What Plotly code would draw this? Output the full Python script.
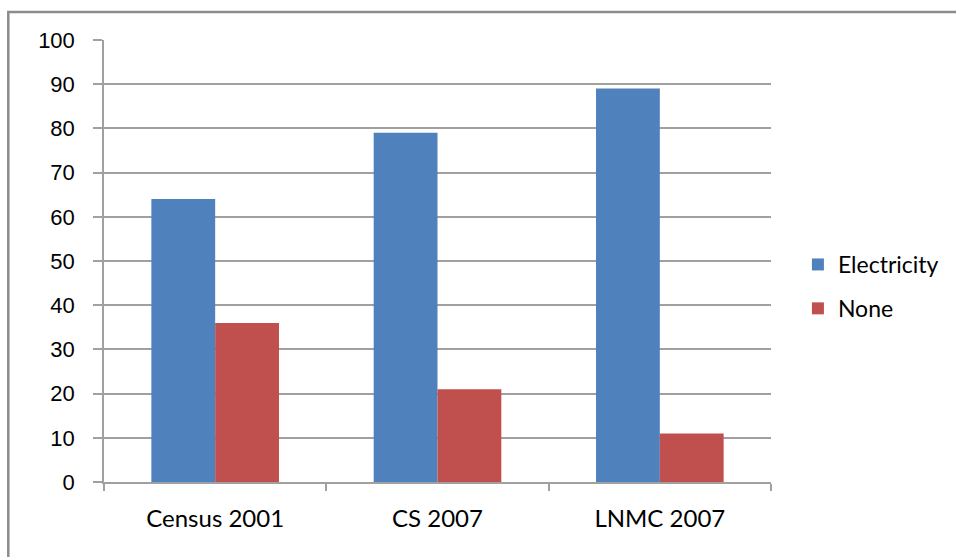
import plotly.graph_objects as go

# Household energy source for lighting (%)
categories = ["Census 2001", "CS 2007", "LNMC 2007"]
electricity = [64, 79, 89]
none_source = [36, 21, 11]

W, H = 956, 557
L, R, T, B = 104, 183, 40, 75
plot_w = W - L - R
plot_h = H - T - B


def px_x(px):
    return (px - L) / plot_w


def px_y(py):
    return (H - B - py) / plot_h


fig = go.Figure()
fig.add_trace(go.Bar(name="Electricity", x=categories, y=electricity,
                     legendgroup="e",
                     marker=dict(color="#4F81BD", line=dict(width=0))))
fig.add_trace(go.Bar(name="None", x=categories, y=none_source,
                     legendgroup="n",
                     marker=dict(color="#C0504D", line=dict(width=0))))

grey = "#A0A0A0"
fig.update_layout(
    width=W, height=H,
    margin=dict(l=L, r=R, t=T, b=B),
    paper_bgcolor="white", plot_bgcolor="white",
    barmode="group", bargap=0.426, bargroupgap=0,
    font=dict(family="Liberation Sans", color="#000000"),
    legend=dict(
        x=px_x(800), y=px_y(243), xanchor="left", yanchor="top",
        font=dict(family="Lato", size=23, color="#000000"),
        tracegroupgap=11, traceorder="grouped", itemwidth=30,
        bgcolor="rgba(0,0,0,0)",
    ),
    xaxis=dict(
        type="category", tickson="boundaries",
        showline=True, linecolor=grey, linewidth=1.5,
        ticks="outside", ticklen=7, tickcolor=grey, tickwidth=1.5,
        showgrid=False, tickfont=dict(family="Lato", size=24, color="#000"),
        ticklabelstandoff=14,
    ),
    yaxis=dict(
        range=[0, 100], dtick=10, tick0=0,
        showline=True, linecolor=grey, linewidth=1.5,
        ticks="outside", ticklen=9, tickcolor=grey, tickwidth=1.5,
        showgrid=True, gridcolor=grey, gridwidth=1.5,
        zeroline=False,
        tickfont=dict(family="Liberation Sans", size=22, color="#000"),
        ticklabelstandoff=14,
    ),
)

# Outer chart frame
fig.add_shape(type="rect", xref="paper", yref="paper",
              x0=px_x(8), x1=px_x(990), y0=px_y(600), y1=px_y(12),
              line=dict(color="#8C8C8C", width=2.5), layer="below")

fig.write_html("out.html")
